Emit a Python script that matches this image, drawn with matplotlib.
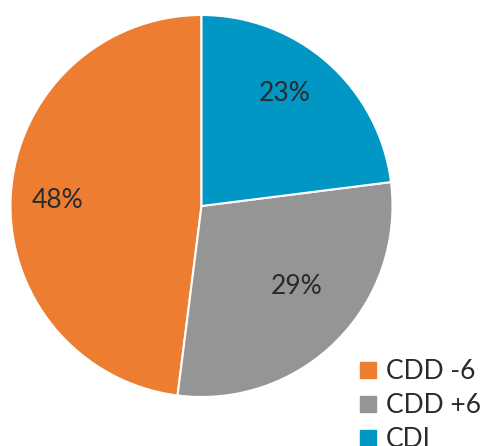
import matplotlib
matplotlib.use('Agg')
import matplotlib.pyplot as plt
from matplotlib.lines import Line2D

# 데이터
labels = ['CDD -6', 'CDD +6', 'CDI']
values = [48, 29, 23]
colors = ['#ED7D31', '#959595', '#0097C4']

plt.rcParams['font.family'] = ['Lato', 'DejaVu Sans']

fig = plt.figure(figsize=(4.85, 4.46), dpi=100)
# 원 위치: x 10~393px, y 15~397px
ax = fig.add_axes([10/485, 49/446, 383/485, 382/446])

wedges, texts, autotexts = ax.pie(
    values, colors=colors, startangle=90, counterclock=True,
    autopct='%d%%', pctdistance=0.72,
    wedgeprops=dict(edgecolor='white', linewidth=1.5),
    textprops=dict(color='#2a2a2a', fontsize=19))
ax.set_xlim(-1, 1)
ax.set_ylim(-1, 1)
ax.set_aspect('equal')

# 라벨 위치 살짝 조정 (원본처럼)
label_pos = [(-0.755, 0.03), (0.50, -0.42), (0.436, 0.59)]
for t, p in zip(autotexts, label_pos):
    t.set_position(p)

handles = [Line2D([], [], marker='s', linestyle='none', markersize=11,
                  markerfacecolor=c, markeredgecolor=c) for c in colors]
fig.legend(handles, labels, loc='upper left', bbox_to_anchor=(357/485, 1 - 359/446),
           frameon=False, handlelength=0.8, handletextpad=0.3,
           labelspacing=0.35, borderaxespad=0, borderpad=0,
           labelcolor='#2a2a2a', prop=dict(size=19))

fig.savefig('out.png', dpi=100)
